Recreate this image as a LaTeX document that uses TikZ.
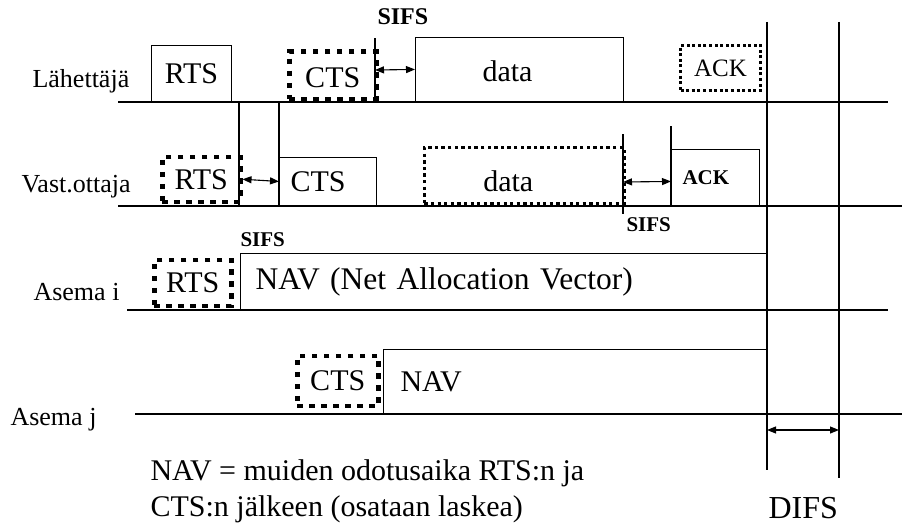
\documentclass[tikz,border=0pt]{standalone}
\usepackage{fontspec}
\setmainfont{Liberation Serif}
\usetikzlibrary{arrows.meta}

\begin{document}
\begin{tikzpicture}[x=1pt,y=-1pt,line width=1.1pt,
            box/.style={draw,line width=1.1pt,inner sep=0pt,anchor=south west,font=\fontsize{30}{36}\selectfont},
            heavy/.style={box,line width=4.5pt,dash pattern=on 5.5pt off 6.5pt},
            light/.style={box,line width=2.6pt,dash pattern=on 3.3pt off 3.3pt},
            medium/.style={box,line width=3pt,dash pattern=on 3pt off 2.6pt},
            who/.style={anchor=base west,inner sep=0pt,font=\fontsize{26}{30}\selectfont},
            gap/.style={anchor=base west,inner sep=0pt,font=\fontsize{21}{24}\selectfont\bfseries},
            span/.style={{Triangle[length=9pt,width=7pt]}-{Triangle[length=9pt,width=7pt]}}]
            \useasboundingbox (0,0) rectangle (902,527);

            % aika-akselit
            \draw (118,102) -- (888,102);
            \draw (118,206) -- (902,206);
            \draw (127,310) -- (888,310);
            \draw (135,414) -- (902,414);

            \node[who] (lah) at (32,87) {Lähettäjä};
            \node[who] (vast) at (21,192) {Vast.ottaja};
            \node[who] (asi) at (33,300) {Asema i};
            \node[who] (asj) at (10,425) {Asema j};

            % lahettaja
            \node[box,minimum width=80pt,minimum height=56pt] (rts1) at (151,102) {RTS};
            \node[heavy,minimum width=87pt,minimum height=47pt,text height=24pt,text depth=0pt] (cts1) at (287,101) {CTS};
            \node[box,minimum width=208pt,minimum height=64pt,text width=74pt,align=left,inner xsep=67pt,text height=24pt,text depth=0pt] (data1) at (415,102) {data};
            \node[medium,minimum width=80pt,minimum height=45pt,font=\fontsize{25}{30}\selectfont] (ack1) at (679,92) {ACK};

            % vastaanottaja
            \node[heavy,minimum width=78pt,minimum height=45pt] (rts2) at (160,204) {RTS};
            \node[box,minimum width=97pt,minimum height=48pt,text width=75pt,align=left,inner xsep=11pt] (cts2) at (279,206) {CTS};
            \node[light,minimum width=200pt,minimum height=56pt,text width=82pt,align=left,inner xsep=59pt,text height=32pt,text depth=0pt] (data2) at (423,205) {data};
            \node[box,minimum width=88pt,minimum height=56pt,text width=66pt,align=left,inner xsep=11pt,font=\fontsize{21}{24}\selectfont\bfseries] (ack2) at (671,206) {ACK};

            % muut asemat
            \node[heavy,minimum width=77pt,minimum height=46pt] (rts3) at (152,308) {RTS};
            \node[box,minimum width=527pt,minimum height=56pt,text width=497pt,align=left,inner xsep=15pt,font=\fontsize{31.5}{36}\selectfont] (nav3) at (240,310) {NAV (Net Allocation Vector)};
            \node[heavy,minimum width=81pt,minimum height=50pt] (cts4) at (295,408) {CTS};
            \node[box,minimum width=384pt,minimum height=64pt,text width=350pt,align=left,inner xsep=17pt] (nav4) at (383,414) {NAV};

            % pystyviivat
            \draw (239,102) -- (239,206);
            \draw (cts2.south west) -- (cts2.west |- rts1.south);
            \draw (375,102) -- (375,38);
            \draw (623,134) -- (623,214);
            \draw (ack2.south west) -- (671,126);
            \coordinate (d1a) at (767,22);
            \coordinate (d1b) at (767,470);
            \coordinate (d2a) at (839,22);
            \coordinate (d2b) at (839,478);
            \draw (d1a) -- (d1b);
            \draw (d2a) -- (d2b);

            % SIFS ja DIFS
            \draw[span] (375,70) -- (data1.west);
            \draw[span] (rts2.east) -- (cts2.west);
            \draw[span] (623,182) -- (ack2.west |- cts2.west);
            \coordinate (difs1) at (767,430);
            \coordinate (difs2) at (839,430);
            \draw[span] (difs1) -- (difs2);

            \node[gap,font=\fontsize{24}{28}\selectfont\bfseries] (sifs1) at (377,25) {SIFS};
            \node[gap] (sifs2) at (240,246) {SIFS};
            \node[gap] (sifs3) at (626,231) {SIFS};
            \node[anchor=base west,inner sep=0pt,font=\fontsize{32}{36}\selectfont] (difs) at (768,518) {DIFS};

            \node[anchor=north west,inner sep=0pt,align=left,font=\fontsize{30}{36}\selectfont] (note) at (150,459) {NAV = muiden odotusaika RTS:n ja\\CTS:n jälkeen (osataan laskea)};
        \end{tikzpicture}
\end{document}
